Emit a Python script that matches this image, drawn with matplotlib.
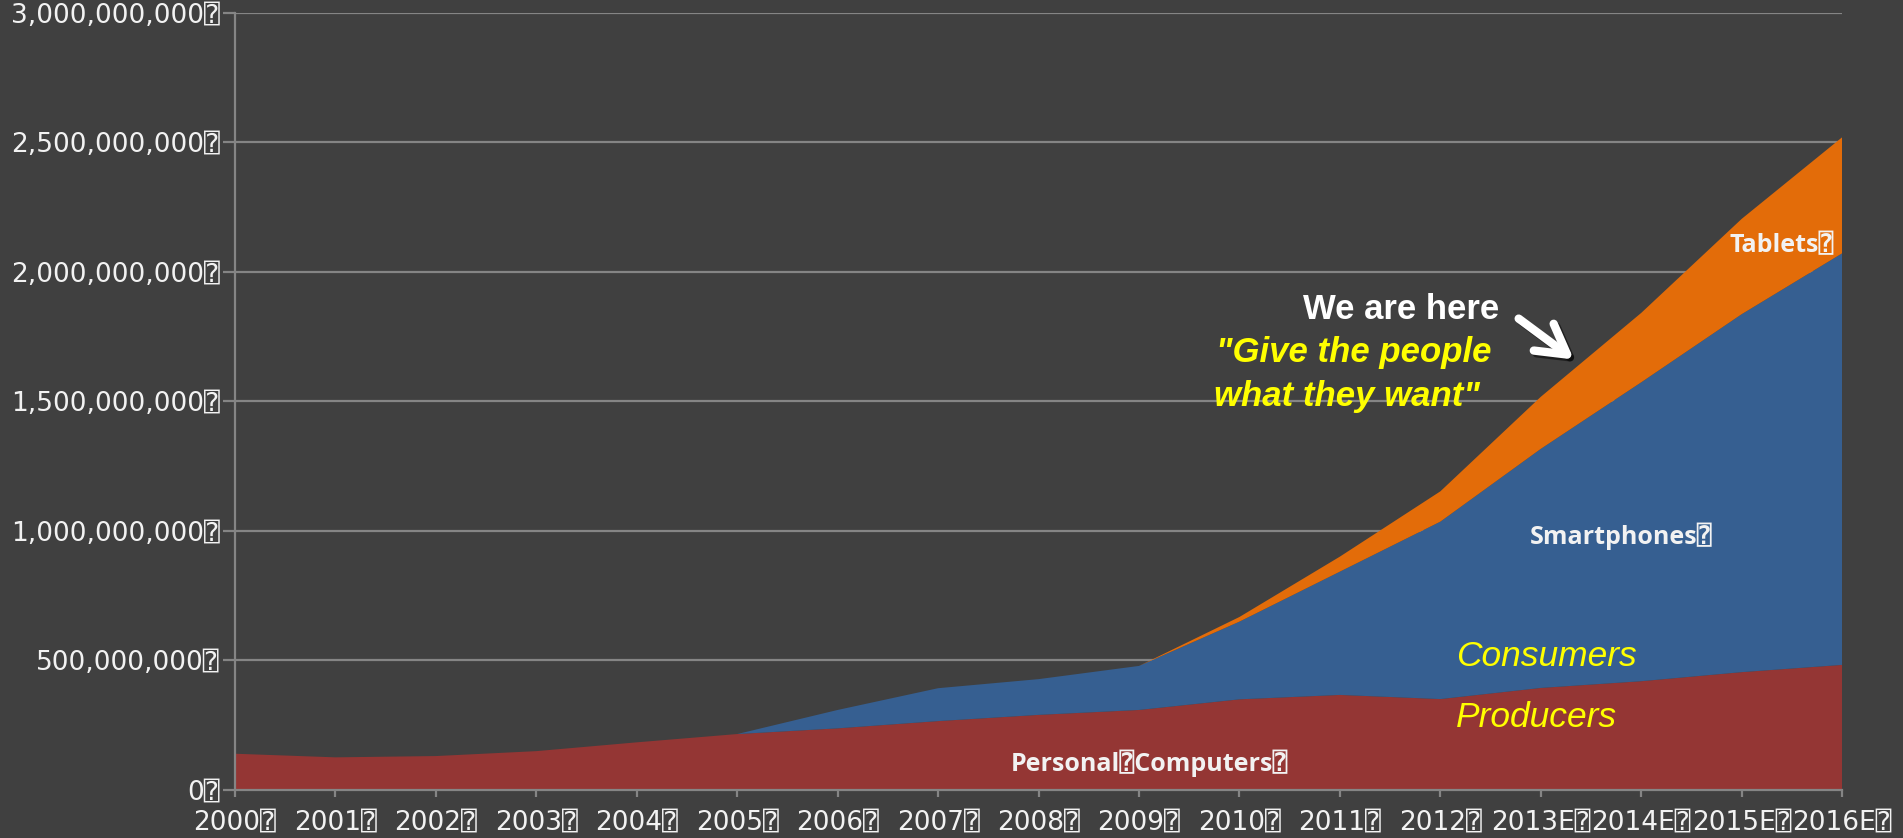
import matplotlib
matplotlib.use("Agg")
import matplotlib.pyplot as plt
import matplotlib.patheffects as pe
import numpy as np

# Unit shipments by device category (units)
years = ["2000", "2001", "2002", "2003", "2004", "2005", "2006", "2007", "2008",
         "2009", "2010", "2011", "2012", "2013E", "2014E", "2015E", "2016E"]
personal_computers = [140e6, 126e6, 131e6, 150e6, 184e6, 216e6, 238e6, 266e6, 290e6,
                      309e6, 350e6, 367e6, 351e6, 394e6, 420e6, 455e6, 483e6]
smartphones = [0, 0, 0, 0, 0, 0, 71e6, 127e6, 138e6,
               170e6, 300e6, 476e6, 685e6, 923e6, 1154e6, 1382e6, 1589e6]
tablets = [0, 0, 0, 0, 0, 0, 0, 0, 0,
           0, 18e6, 58e6, 117e6, 201e6, 268e6, 368e6, 448e6]
y_ticks = [0, 500e6, 1000e6, 1500e6, 2000e6, 2500e6, 3000e6]

BOX = "\u2370"
BG = "#404040"
GRID = "#858585"
TXT = "#F2F2F2"
RED, BLUE, ORANGE = "#943634", "#365F91", "#E36C09"
YELLOW = "#FFFF00"

fig = plt.figure(figsize=(19.03, 8.38), dpi=100, facecolor=BG)
ax = fig.add_axes([0.1235, 0.0573, 0.9680 - 0.1235, 0.9845 - 0.0573])
ax.set_facecolor(BG)

x = np.arange(len(years))
ax.stackplot(x, personal_computers, smartphones, tablets,
             colors=[RED, BLUE, ORANGE], linewidth=0, zorder=2)

ax.set_xlim(0, len(years) - 1)
ax.set_ylim(0, 3000e6)
ax.set_yticks(y_ticks)
ax.set_yticklabels([f"{v:,.0f}{BOX}" for v in y_ticks])
ax.set_xticks(x)
ax.set_xticklabels([f"{y}{BOX}" for y in years])

for lab in ax.get_yticklabels() + ax.get_xticklabels():
    lab.set_fontfamily(["DejaVu Sans", "DejaVu Sans Mono"])
    lab.set_fontsize(19)
    lab.set_color(TXT)

ax.yaxis.grid(True, color=GRID, linewidth=1.6, zorder=1)
ax.set_axisbelow(True)
for side in ["top", "right"]:
    ax.spines[side].set_visible(False)
for side in ["left", "bottom"]:
    ax.spines[side].set_color(GRID)
    ax.spines[side].set_linewidth(1.6)
    ax.spines[side].set_zorder(3)
ax.tick_params(axis="y", length=9, width=1.6, color=GRID, pad=2)
ax.tick_params(axis="x", length=5, width=1.6, color=GRID, pad=9)

# Series labels inside the areas
series_font = dict(family=["Open Sans", "DejaVu Sans Mono"], weight="bold", size=18, color=TXT)
ax.text(9.1, 105e6, f"Personal{BOX}Computers{BOX}", ha="center", va="center", zorder=5, **series_font)
ax.text(13.8, 980e6, f"Smartphones{BOX}", ha="center", va="center", zorder=5, **series_font)
ax.text(15.4, 2100e6, f"Tablets{BOX}", ha="center", va="center", zorder=5, **series_font)

# Consumer / producer annotations
ax.text(12.16, 515e6, "Consumers", ha="left", va="center", color=YELLOW,
        family="Liberation Sans", style="italic", size=25.5, zorder=5)
ax.text(12.16, 280e6, "Producers", ha="left", va="center", color=YELLOW,
        family="Liberation Sans", style="italic", size=25.5, zorder=5)

ax.text(10.63, 1857e6, "We are here", ha="left", va="center", color="white",
        family="Liberation Sans", weight="bold", size=25, zorder=5)
ax.text(9.77, 1690e6, "\"Give the people", ha="left", va="center", color=YELLOW,
        family="Liberation Sans", weight="bold", style="italic", size=25, zorder=5)
ax.text(9.75, 1520e6, "what they want\"", ha="left", va="center", color=YELLOW,
        family="Liberation Sans", weight="bold", style="italic", size=25, zorder=5)

ax.annotate("", xy=(13.33, 1662e6), xytext=(12.78, 1820e6),
            arrowprops=dict(arrowstyle="->,head_length=1.05,head_width=0.6",
                            color="white", lw=6, mutation_scale=20,
                            shrinkA=0, shrinkB=0,
                            capstyle="round", joinstyle="round",
                            path_effects=[pe.SimpleLineShadow(offset=(2, -2), alpha=0.5),
                                          pe.Normal()]),
            zorder=6)

fig.savefig("out.png", dpi=100, facecolor=BG)
